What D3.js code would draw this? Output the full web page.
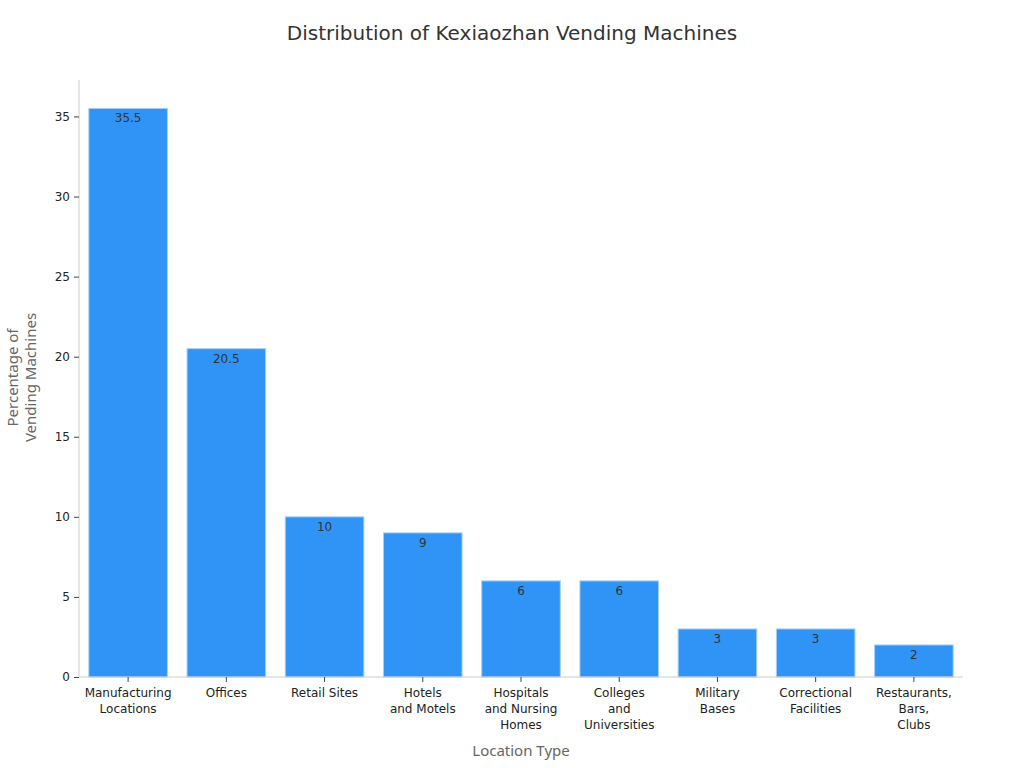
<!DOCTYPE html>
<html>
<head>
<meta charset="utf-8">
<script src="https://cdn.jsdelivr.net/npm/d3@7/dist/d3.min.js"></script>
<style>
  body { margin: 0; background: #fff; }
  svg { display: block; }
  .tick text { font-family: "DejaVu Sans", sans-serif; font-size: 12px; fill: #222; }
  .axis-title { font-family: "Noto Sans", sans-serif; font-size: 15px; fill: #666; }
</style>
</head>
<body>
<div id="chart"></div>
<script>
// Chart data
const categories = [
  ["Manufacturing", "Locations"],
  ["Offices"],
  ["Retail Sites"],
  ["Hotels", "and Motels"],
  ["Hospitals", "and Nursing", "Homes"],
  ["Colleges", "and", "Universities"],
  ["Military", "Bases"],
  ["Correctional", "Facilities"],
  ["Restaurants,", "Bars,", "Clubs"]
];
const values = [35.5, 20.5, 10, 9, 6, 6, 3, 3, 2];
const yTicks = [0, 5, 10, 15, 20, 25, 30, 35];

const width = 1024, height = 768;
const margin = { top: 80, right: 61, bottom: 91, left: 79 };
const innerWidth = width - margin.left - margin.right;
const innerHeight = height - margin.top - margin.bottom;

const svg = d3.select("#chart").append("svg")
  .attr("width", width)
  .attr("height", height);

svg.append("text")
  .attr("x", width / 2)
  .attr("y", 40)
  .attr("text-anchor", "middle")
  .style("font-family", "DejaVu Sans, sans-serif")
  .style("font-size", "20px")
  .style("fill", "#333")
  .text("Distribution of Kexiaozhan Vending Machines");

const plot = svg.append("g").attr("transform", `translate(${margin.left},${margin.top})`);

const keys = categories.map((c) => c.join(" "));
const x = d3.scaleBand().domain(keys).range([0, innerWidth]).paddingInner(0.2).paddingOuter(0.1);
const y = d3.scaleLinear().domain([0, d3.max(values) * 1.05]).range([innerHeight, 0]);

// Bars
plot.selectAll("rect.bar")
  .data(values)
  .enter()
  .append("rect")
  .attr("class", "bar")
  .attr("x", (d, i) => x(keys[i]))
  .attr("y", (d) => y(d))
  .attr("width", x.bandwidth())
  .attr("height", (d) => innerHeight - y(d))
  .attr("fill", "#3094f7")
  .attr("stroke", "#a6cff7")
  .attr("stroke-width", 1);

// Value labels inside bars
plot.selectAll("text.value")
  .data(values)
  .enter()
  .append("text")
  .attr("class", "value")
  .attr("x", (d, i) => x(keys[i]) + x.bandwidth() / 2)
  .attr("y", (d) => y(d) + 14)
  .attr("text-anchor", "middle")
  .style("font-family", "DejaVu Sans, sans-serif")
  .style("font-size", "12px")
  .style("fill", "#333")
  .text((d) => d);

// Y axis
const yAxisG = plot.append("g")
  .call(d3.axisLeft(y).tickValues(yTicks).tickSize(5).tickPadding(4));
yAxisG.select(".domain").attr("stroke", "#ccc").attr("d", `M0,0V${innerHeight}`);
yAxisG.selectAll(".tick line").attr("stroke", "#444");

// X axis
const xAxisG = plot.append("g")
  .attr("transform", `translate(0,${innerHeight})`)
  .call(d3.axisBottom(x).tickSize(5).tickPadding(4).tickFormat(""));
xAxisG.select(".domain").attr("stroke", "#ccc").attr("d", `M0,0H${innerWidth}`);
xAxisG.selectAll(".tick line").attr("stroke", "#444");

xAxisG.selectAll(".tick").each(function (d, i) {
  const t = d3.select(this).select("text").attr("y", 0).attr("dy", null);
  categories[i].forEach((line, j) => {
    t.append("tspan").attr("x", 0).attr("y", 20 + j * 16).text(line);
  });
});

// Axis titles
svg.append("text")
  .attr("class", "axis-title")
  .attr("x", margin.left + innerWidth / 2)
  .attr("y", 756)
  .attr("text-anchor", "middle")
  .text("Location Type");

const yTitle = svg.append("text")
  .attr("class", "axis-title")
  .attr("text-anchor", "middle")
  .attr("transform", `translate(0,${margin.top + innerHeight / 2 - 1}) rotate(-90)`);
yTitle.append("tspan").attr("x", 0).attr("y", 18).text("Percentage of");
yTitle.append("tspan").attr("x", 0).attr("y", 36).text("Vending Machines");
</script>
</body>
</html>
